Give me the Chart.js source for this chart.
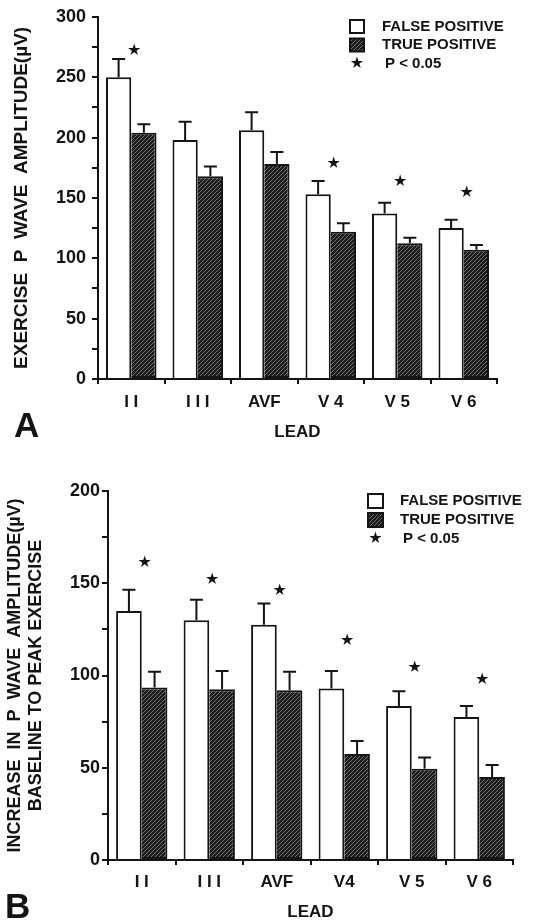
<!DOCTYPE html>
<html>
<head>
<meta charset="utf-8">
<script src="https://cdn.jsdelivr.net/npm/chart.js@4.4.1/dist/chart.umd.min.js"></script>
<style>
  html, body { margin: 0; padding: 0; background: #fff; }
  #wrap { position: relative; width: 542px; height: 924px; overflow: hidden; }
  canvas { position: absolute; left: 0; }
  #chartA { top: 0; }
  #chartB { top: 460px; }
</style>
</head>
<body>
<div id="wrap">
  <canvas id="chartA" width="542" height="460"></canvas>
  <canvas id="chartB" width="542" height="464"></canvas>
</div>
<script>
// panel A - exercise P wave amplitude
const leadsA = ['I I', 'I I I', 'AVF', 'V 4', 'V 5', 'V 6'];
const falsePosA = [250, 198, 206, 153, 137, 125];
const falsePosErrA = [15, 15, 15, 11, 9, 7];
const truePosA = [204, 168, 178, 122, 112.5, 107];
const truePosErrA = [7, 8, 10, 7, 4.5, 4];
const starsA = [272, null, null, 178, 163, 154];
const ticksA = [0, 50, 100, 150, 200, 250, 300];

// panel B - increase baseline to peak exercise
const leadsB = ['I I', 'I I I', 'AVF', 'V4', 'V 5', 'V 6'];
const falsePosB = [135, 130, 127.5, 93, 83.5, 77.5];
const falsePosErrB = [11.5, 11, 11.5, 9.5, 8, 6];
const truePosB = [93.5, 92.5, 92, 57.5, 49.5, 45];
const truePosErrB = [8.5, 10, 10, 7, 6, 6.5];
const starsB = [161, 152, 146, 119, 104, 97.5];
const ticksB = [0, 50, 100, 150, 200];

const FONT = '"Liberation Sans", Arial, Helvetica, sans-serif';
const INK = '#141414';

function hatch(ctx) {
    const c = document.createElement('canvas');
    c.width = 4; c.height = 4;
    const g = c.getContext('2d');
    g.fillStyle = '#1c1c1c';
    g.fillRect(0, 0, 4, 4);
    g.strokeStyle = '#707070';
    g.lineWidth = 1;
    for (const k of [-4, 0, 4]) {
        g.beginPath();
        g.moveTo(k, 4);
        g.lineTo(k + 4, 0);
        g.stroke();
    }
    return ctx.createPattern(c, 'repeat');
}

// barras de error, asteriscos, leyenda y letra del panel
const extras = {
    id: 'extras',
    afterDatasetsDraw(chart, args, opts) {
        const {ctx, scales: {x, y}} = chart;
        ctx.save();
        ctx.strokeStyle = INK;
        ctx.lineWidth = 2;
        opts.errors.forEach((errs, di) => {
            const meta = chart.getDatasetMeta(di);
            meta.data.forEach((bar, i) => {
                const v = chart.data.datasets[di].data[i];
                const yTop = y.getPixelForValue(v + errs[i]);
                ctx.beginPath();
                ctx.moveTo(bar.x, bar.y);
                ctx.lineTo(bar.x, yTop);
                ctx.moveTo(bar.x - 6.5, yTop);
                ctx.lineTo(bar.x + 6.5, yTop);
                ctx.stroke();
            });
        });
        ctx.fillStyle = INK;
        ctx.font = 'bold 16px "DejaVu Sans"';
        ctx.textAlign = 'center';
        ctx.textBaseline = 'middle';
        opts.stars.forEach((s, i) => {
            if (s == null) return;
            ctx.fillText('\u2605', x.getPixelForValue(i) + 3, y.getPixelForValue(s));
        });
        ctx.restore();
    },
    afterDraw(chart, args, opts) {
        const {ctx} = chart;
        const L = opts.legend;
        ctx.save();
        ctx.lineWidth = 2;
        ctx.strokeStyle = INK;
        ctx.fillStyle = '#fff';
        ctx.fillRect(L.x, L.y, L.w, L.h);
        ctx.strokeRect(L.x, L.y, L.w, L.h);
        ctx.fillStyle = hatch(ctx);
        ctx.fillRect(L.x, L.y + L.gap, L.w, L.h);
        ctx.strokeRect(L.x, L.y + L.gap, L.w, L.h);
        ctx.fillStyle = INK;
        ctx.textBaseline = 'middle';
        ctx.textAlign = 'left';
        ctx.font = 'bold 15px ' + FONT;
        ctx.fillText(chart.data.datasets[0].label, L.tx, L.y + L.h / 2);
        ctx.fillText(chart.data.datasets[1].label, L.tx, L.y + L.gap + L.h / 2);
        ctx.fillText('P < 0.05', L.tx + 3, L.y + 2 * L.gap + L.h / 2);
        ctx.font = 'bold 16px "DejaVu Sans"';
        ctx.textAlign = 'center';
        ctx.fillText('\u2605', L.x + L.w / 2, L.y + 2 * L.gap + L.h / 2);
        // letra A / B
        ctx.textAlign = 'left';
        ctx.textBaseline = 'alphabetic';
        ctx.font = 'bold 35px ' + FONT;
        ctx.fillText(opts.letter.text, opts.letter.x, opts.letter.y);
        ctx.restore();
    }
};

function makeChart(id, cfg) {
    const ctx = document.getElementById(id).getContext('2d');
    return new Chart(ctx, {
        type: 'bar',
        data: {
            labels: cfg.labels,
            datasets: [{
                label: 'FALSE POSITIVE',
                data: cfg.fp,
                backgroundColor: '#fff',
                borderColor: INK,
                borderWidth: 2
            }, {
                label: 'TRUE POSITIVE',
                data: cfg.tp,
                backgroundColor: hatch(ctx),
                borderColor: INK,
                borderWidth: 2,
                borderSkipped: 'left'
            }]
        },
        options: {
            responsive: false,
            animation: false,
            layout: { padding: { top: cfg.padTop, right: cfg.padRight, left: 0, bottom: 0 } },
            datasets: { bar: { categoryPercentage: 0.76, barPercentage: 1.0 } },
            scales: {
                x: {
                    afterFit: (s) => { s.height = cfg.xHeight; },
                    grid: { display: true, drawOnChartArea: false, drawTicks: true, tickLength: 5, color: INK, lineWidth: 2 },
                    border: { display: true, color: INK, width: 2 },
                    ticks: { color: INK, padding: cfg.xTickPad, font: { family: FONT, size: 17, weight: 'bold' } },
                    title: {
                        display: true,
                        text: 'LEAD',
                        color: INK,
                        padding: { top: 0, bottom: cfg.xTitlePad },
                        font: { family: FONT, size: 17, weight: 'bold' }
                    }
                },
                y: {
                    min: 0,
                    max: cfg.max,
                    afterFit: (s) => { s.width = cfg.yWidth; },
                    grid: { display: true, drawOnChartArea: false, drawTicks: true, tickLength: 6, color: INK, lineWidth: 2 },
                    border: { display: true, color: INK, width: 2 },
                    ticks: {
                        stepSize: 25,
                        color: INK,
                        padding: cfg.yTickPad,
                        font: { family: FONT, size: 18, weight: 'bold' },
                        callback: (v) => cfg.ticks.includes(v) ? String(v) : ''
                    },
                    title: {
                        display: true,
                        text: cfg.yTitle,
                        color: INK,
                        padding: { top: cfg.yTitlePad, bottom: 0 },
                        font: { family: FONT, size: cfg.yTitleSize, weight: 'bold', lineHeight: cfg.yTitleLH }
                    }
                }
            },
            plugins: {
                legend: { display: false },
                tooltip: { enabled: false },
                extras: {
                    errors: [cfg.fpErr, cfg.tpErr],
                    stars: cfg.stars,
                    legend: cfg.legend,
                    letter: cfg.letter
                }
            }
        },
        plugins: [extras]
    });
}

document.addEventListener('DOMContentLoaded', () => {
    makeChart('chartA', {
        labels: leadsA, fp: falsePosA, tp: truePosA, fpErr: falsePosErrA, tpErr: truePosErrA,
        stars: starsA, ticks: ticksA, max: 300,
        padTop: 15, padRight: 45, yWidth: 98, xHeight: 81,
        xTickPad: 8, xTitlePad: 17, yTickPad: 6, yTitlePad: 10,
        yTitleSize: 19, yTitleLH: 1.2,
        yTitle: 'EXERCISE  P  WAVE  AMPLITUDE(\u00b5V)',
        legend: { x: 350, y: 20, w: 14, h: 13, gap: 18.5, tx: 382 },
        letter: { text: 'A', x: 14, y: 437 }
    });
    makeChart('chartB', {
        labels: leadsB, fp: falsePosB, tp: truePosB, fpErr: falsePosErrB, tpErr: truePosErrB,
        stars: starsB, ticks: ticksB, max: 200,
        padTop: 31, padRight: 29, yWidth: 108, xHeight: 64,
        xTickPad: 7, xTitlePad: 1, yTickPad: 2, yTitlePad: 4,
        yTitleSize: 18, yTitleLH: 1.18,
        yTitle: ['INCREASE  IN  P  WAVE  AMPLITUDE(\u00b5V)', 'BASELINE TO PEAK EXERCISE'],
        legend: { x: 368, y: 34, w: 15, h: 14, gap: 19, tx: 400 },
        letter: { text: 'B', x: 5, y: 458 }
    });
});
</script>
</body>
</html>
